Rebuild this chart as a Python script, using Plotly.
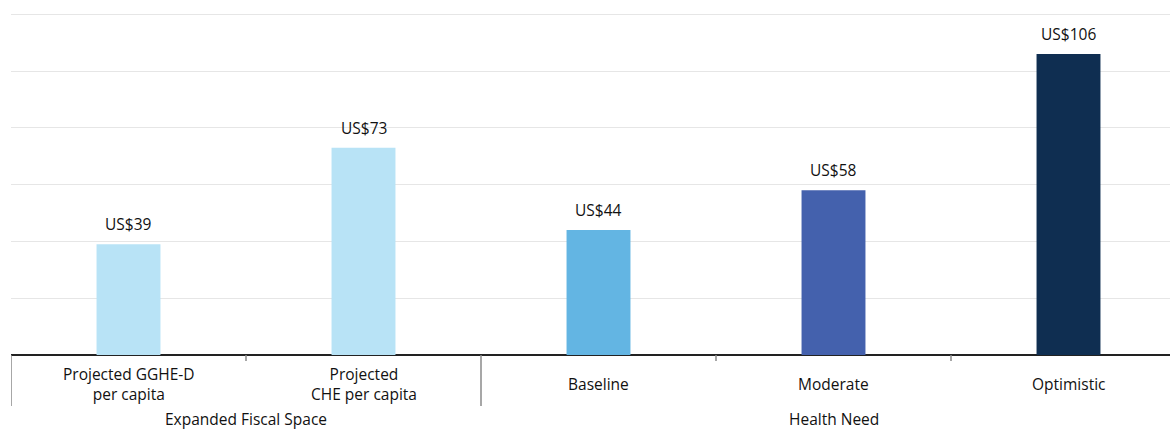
import plotly.graph_objects as go

categories = ["Projected GGHE-D<br>per capita", "Projected<br>CHE per capita",
              "Baseline", "Moderate", "Optimistic"]
groups = ["Expanded Fiscal Space", "Health Need"]
group_sizes = [2, 3]
values = [39, 73, 44, 58, 106]
colors = ["#B8E3F6", "#B8E3F6", "#63B5E3", "#4461AD", "#0F2E51"]
label_prefix = "US$"

FONT = "Open Sans"
TEXT = "#111111"

x = list(range(len(categories)))

fig = go.Figure(go.Bar(
    x=x, y=values, width=0.272,
    marker=dict(color=colors, line=dict(width=0)),
    hoverinfo="skip",
))

annotations = []
# value labels above each bar
for xi, v in zip(x, values):
    annotations.append(dict(x=xi, y=v, xref="x", yref="y", text=f"{label_prefix}{v}",
                            showarrow=False, yanchor="bottom", yshift=7,
                            font=dict(family=FONT, size=15.5, color=TEXT)))
# category labels, vertically centred below the axis
for xi, c in zip(x, categories):
    annotations.append(dict(x=xi, y=0, xref="x", yref="y", text=c, showarrow=False,
                            yanchor="middle", yshift=-29,
                            font=dict(family=FONT, size=15.5, color=TEXT)))

shapes = []
# group dividers and labels
start = -0.5
for g, n in zip(groups, group_sizes):
    end = start + n
    shapes.append(dict(type="line", xref="x", yref="paper", x0=start, x1=start,
                       y0=0, y1=-51 / 355, line=dict(color="#8a8a8a", width=1.5)))
    annotations.append(dict(x=(start + end) / 2, y=0, xref="x", yref="y", text=g,
                            showarrow=False, yanchor="middle", yshift=-64,
                            font=dict(family=FONT, size=15.5, color=TEXT)))
    # short ticks between categories inside the group
    for k in range(1, n):
        shapes.append(dict(type="line", xref="x", yref="paper", x0=start + k, x1=start + k,
                           y0=0, y1=-6 / 355, line=dict(color="#8a8a8a", width=1.5)))
    start = end

fig.update_layout(
    width=1170, height=429,
    margin=dict(l=11, r=0, t=0, b=74),
    plot_bgcolor="white", paper_bgcolor="white",
    showlegend=False,
    xaxis=dict(range=[-0.5, -0.5 + 1159 / 235], showticklabels=False, ticks="",
               showgrid=False, zeroline=False, showline=False, fixedrange=True),
    yaxis=dict(range=[0, 125], dtick=20, showgrid=True, gridcolor="#e6e6e6", gridwidth=1,
               showticklabels=False, zeroline=True, zerolinecolor="#222222", zerolinewidth=1.5,
               showline=False, fixedrange=True),
    annotations=annotations,
    shapes=shapes,
)

fig.write_html("out.html")
